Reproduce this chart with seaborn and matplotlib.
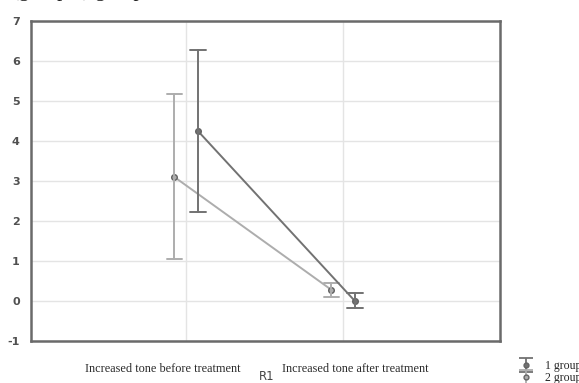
import pandas as pd
import seaborn as sns
import matplotlib.pyplot as plt
from matplotlib.lines import Line2D
from matplotlib.path import Path

categories = ['Increased tone before treatment', 'Increased tone after treatment']
groups = ['1 group', '2 group']
# mean, lower, upper
mean_g1 = [4.25, 0.0]
low_g1 = [2.22, -0.17]
high_g1 = [6.29, 0.19]
mean_g2 = [3.1, 0.28]
low_g2 = [1.04, 0.10]
high_g2 = [5.19, 0.44]
yticks = [-1, 0, 1, 2, 3, 4, 5, 6, 7]

rows = []
for g, m, lo, hi in [(groups[0], mean_g1, low_g1, high_g1), (groups[1], mean_g2, low_g2, high_g2)]:
    for i, c in enumerate(categories):
        for v in (lo[i], m[i], hi[i]):
            rows.append({'R1': c, 'group': g, 'value': v})
df = pd.DataFrame(rows)

sns.set_style('white')
fig = plt.figure(figsize=(5.79, 3.83), dpi=100)
ax = fig.add_axes([0.0535, 0.1097, 0.81, 0.835])

pal = {'1 group': '#727272', '2 group': '#adadad'}
# median of (low, mean, high) is the mean; pi 100 spans low..high
sns.pointplot(data=df, x='R1', y='value', hue='group', hue_order=['2 group', '1 group'],
              order=categories, estimator='median', errorbar=('pi', 100),
              dodge=0.15, palette=pal, capsize=0.1, markers='o',
              markersize=4, linewidth=1.4, err_kws={'linewidth': 1.4},
              legend=False, ax=ax)
for ln in ax.lines:
    ln.set_markeredgecolor('#646464')

ax.set_xlim(-0.99, 2.0)
ax.set_ylim(-1, 7)
ax.set_yticks(yticks)
ax.set_yticklabels([str(t) for t in yticks], fontsize=8, fontweight='bold', color='#505050')
ax.set_xticks([0, 1])
ax.set_xticklabels(['', ''])
ax.grid(True, color='#e4e4e4', linewidth=1)
ax.set_axisbelow(True)
ax.tick_params(axis='both', length=2, color='#606060', pad=6)
for s in ax.spines.values():
    s.set_color('#6a6a6a')
    s.set_linewidth(1.8)
ax.set_xlabel('')
ax.set_ylabel('')

fig.text(163 / 579, 1 - 369 / 383, categories[0], ha='center', va='center',
         fontsize=8.8, family='Liberation Serif', color='#2a2a2a')
fig.text(355 / 579, 1 - 369 / 383, categories[1], ha='center', va='center',
         fontsize=8.8, family='Liberation Serif', color='#2a2a2a')
fig.text(267 / 579, 1 - 377 / 383, 'R1', ha='center', va='center',
         fontsize=8.5, color='#444444')
fig.text(12 / 579, 1.022, '(group 1) group 2', ha='left', va='center',
         fontsize=15, family='Liberation Serif', color='#222222')

# error-bar style legend icons: an "I" marker with a dot on top
ibar = Path([(-1, 1), (1, 1), (0, 1), (0, -1), (-1, -1), (1, -1)],
            [Path.MOVETO, Path.LINETO, Path.MOVETO, Path.LINETO, Path.MOVETO, Path.LINETO])
handles = []
for g in groups:
    bar = Line2D([], [], linestyle='none', marker=ibar, markersize=10,
                 markerfacecolor='none', markeredgecolor=pal[g], markeredgewidth=1.3)
    dot = Line2D([], [], linestyle='none', marker='o', markersize=3.5,
                 color=pal[g], markeredgecolor='#646464')
    handles.append((bar, dot))
fig.legend(handles=handles, labels=groups, loc='upper left',
           bbox_to_anchor=(510 / 579, 1 - 352 / 383), frameon=False,
           prop={'family': 'Liberation Serif', 'size': 8.5},
           handlelength=1.3, handletextpad=1.0, labelspacing=0.0, borderpad=0.2)

fig.savefig('out.png', dpi=100)
